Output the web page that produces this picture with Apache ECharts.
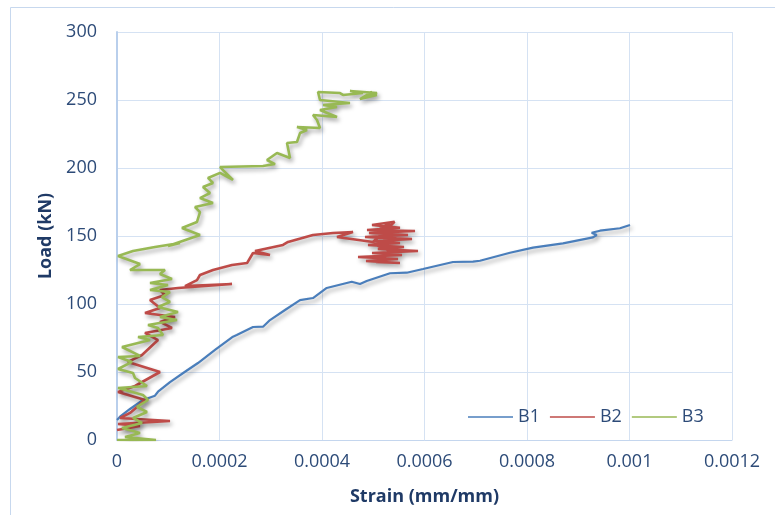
<!DOCTYPE html>
<html>
<head>
<meta charset="utf-8">
<script src="https://cdn.jsdelivr.net/npm/echarts@6/dist/echarts.min.js"></script>
<style>
  html, body { margin: 0; padding: 0; background: #fff; }
  #chart { width: 775px; height: 515px; }
</style>
</head>
<body>
<div id="chart"></div>
<script>
// strain (mm/mm) and load (kN)
const b1Strain = [0, 0.0000059, 0.0000254, 0.0000507, 0.0000741, 0.00008, 0.0001034, 0.0001327, 0.000158, 0.0001912,
  0.0002263, 0.0002336, 0.0002654, 0.0002849, 0.0002985, 0.0003278, 0.0003571, 0.0003824, 0.0004092, 0.000458,
  0.0004741, 0.0004872, 0.0005327, 0.0005653, 0.0005971, 0.0006556, 0.0006946, 0.0007083, 0.0007668, 0.0008117,
  0.0008702, 0.0009288, 0.000936, 0.0009262, 0.0009424, 0.0009814, 0.001001];
const b1Load = [14.7, 17.1, 22.8, 29.4, 32.6, 35.5, 42.6, 50.2, 56.6, 66.2,
  76.0, 77.2, 83.1, 83.3, 88.2, 95.6, 102.9, 104.4, 111.8, 116.4,
  114.7, 116.9, 122.6, 123.0, 125.7, 130.9, 131.1, 131.8, 137.7, 141.4,
  144.6, 149.0, 150.7, 152.4, 153.9, 155.7, 158.1];

const b2Strain = [0, 0.0000449, 0.000002, 0.0001034, 0.0000059, 0.0000254, 0.0000546, 0.000002, 0.0000351, 0.0000839,
  0.0000215, 0.0000488, 0.00008, 0.0000546, 0.0001073, 0.0000839, 0.0001132, 0.0000546, 0.0000839, 0.0000644,
  0.0000937, 0.0000839, 0.000119, 0.0002244, 0.0001327, 0.0001561, 0.0001619, 0.0001873, 0.0002244, 0.0002537,
  0.0002654, 0.0002985, 0.0002693, 0.0003239, 0.0003337, 0.0003824, 0.0004215, 0.0004605, 0.0004293, 0.0004995,
  0.0005416, 0.0004976, 0.0005522, 0.0004878, 0.0005815, 0.0004917, 0.0005678, 0.0004839, 0.0005756, 0.0005034,
  0.0005522, 0.0004898, 0.00056, 0.000509, 0.0005873, 0.0004976, 0.0005561, 0.0004703, 0.0005483, 0.0004859,
  0.0005522, 0.0005054, 0.0005366, 0.0005015, 0.0005444, 0.0005132, 0.0005327];
const b2Load = [7.4, 10.3, 11.8, 14.0, 16.2, 19.9, 29.4, 35.3, 39.7, 50.0,
  57.4, 62.5, 73.5, 78.7, 82.4, 86.8, 90.4, 93.4, 97.1, 102.9,
  106.6, 110.3, 111.8, 114.7, 113.2, 117.6, 121.3, 125.0, 128.7, 130.1,
  137.5, 136.0, 139.0, 143.4, 145.6, 150.7, 152.2, 152.9, 149.3, 145.6,
  160.5, 158.1, 156.1, 154.4, 153.7, 152.2, 150.7, 149.3, 147.8, 146.3,
  144.9, 143.4, 141.9, 140.4, 139.0, 137.5, 136.0, 134.6, 133.1, 131.6,
  130.1, 130.9, 138.2, 144.1, 150.0, 155.9, 158.8];

const b3Strain = [0, 0.000076, 0.0000156, 0.0000449, 0.0000098, 0.0000488, 0.0000312, 0.0000585, 0.000039, 0.0000605,
  0.0000507, 0.000002, 0.0000585, 0.0000351, 0.0000312, 0.000002, 0.0000293, 0.000002, 0.0000449, 0.0000098,
  0.0000644, 0.000041, 0.0000898, 0.00008, 0.0000605, 0.0001171, 0.0000839, 0.000119, 0.00008, 0.0001034,
  0.0000878, 0.0001034, 0.0000644, 0.0000995, 0.0000644, 0.0001073, 0.0000839, 0.0000937, 0.0000254, 0.0000449,
  0.000002, 0.0000312, 0.0000741, 0.0001229, 0.0000995, 0.0001619, 0.0001268, 0.0001561, 0.0001619, 0.0001522,
  0.0001873, 0.0001619, 0.0001815, 0.0001678, 0.0001873, 0.0001776, 0.000201, 0.0002263, 0.000201, 0.0002849,
  0.0003083, 0.0002927, 0.0003122, 0.0003376, 0.0003317, 0.0003512, 0.0003571, 0.0003707, 0.0003512, 0.0003961,
  0.0003902, 0.0003824, 0.0004293, 0.0003961, 0.0004293, 0.000402, 0.0004546, 0.0003961, 0.0003922, 0.0004351,
  0.000441, 0.00048, 0.0004546, 0.0005073, 0.0004878, 0.0005073, 0.0004741, 0.0004976];
const b3Load = [0, 0, 2.2, 5.1, 8.8, 12.5, 16.2, 20.6, 24.3, 29.4,
  33.1, 38.2, 39.7, 45.6, 49.3, 52.2, 57.4, 61.0, 61.8, 68.4,
  73.5, 75.7, 77.2, 82.4, 84.6, 88.2, 90.4, 94.1, 97.8, 101.5,
  105.1, 108.8, 110.3, 114.0, 115.4, 118.4, 122.1, 125.0, 125.0, 129.4,
  135.3, 139.0, 141.9, 144.9, 142.6, 150.7, 155.9, 160.3, 167.6, 171.3,
  174.3, 177.9, 181.6, 186.0, 189.0, 192.7, 196.4, 191.2, 200.7, 201.5,
  202.9, 205.9, 211.0, 207.4, 218.4, 219.1, 225.7, 227.9, 230.1, 229.4,
  235.3, 239.0, 237.5, 242.6, 244.9, 246.3, 247.8, 250.0, 255.9, 255.1,
  253.7, 255.1, 256.6, 255.1, 252.2, 253.7, 250.7, 255.9];

const seriesNames = ['B1', 'B2', 'B3'];
const seriesColors = ['#4A7EBB', '#BE4B48', '#98B954'];

const zip = (xs, ys) => xs.map((x, i) => [x, ys[i]]);
const seriesData = [zip(b1Strain, b1Load), zip(b2Strain, b2Load), zip(b3Strain, b3Load)];

const labelColor = '#2D4B78';
const titleColor = '#1F3A66';
const font = '"Open Sans", "Liberation Sans", sans-serif';

const chart = echarts.init(document.getElementById('chart'), null, { renderer: 'canvas' });
chart.setOption({
  animation: false,
  backgroundColor: '#fff',
  textStyle: { fontFamily: font },
  graphic: [{
    type: 'rect',
    shape: { x: 10.5, y: 7.5, width: 800, height: 520 },
    style: { fill: 'none', stroke: '#C7D8EE', lineWidth: 1 },
    silent: true,
    z: -1
  }],
  grid: { left: 117, right: 43, top: 32, bottom: 75 },
  legend: {
    left: 463,
    top: 403,
    itemWidth: 45,
    itemHeight: 14,
    itemGap: 10,
    icon: 'path://M0,7L45,7L45,8.5L0,8.5Z',
    textStyle: { color: labelColor, fontSize: 18, fontFamily: font },
    data: seriesNames
  },
  xAxis: {
    type: 'value',
    min: 0,
    max: 0.0012,
    interval: 0.0002,
    name: 'Strain (mm/mm)',
    nameLocation: 'middle',
    nameGap: 48,
    nameTextStyle: { color: titleColor, fontSize: 18, fontWeight: 'bold', fontFamily: font },
    axisLine: { lineStyle: { color: '#C4D6EE', width: 1 } },
    axisTick: { show: false },
    splitLine: { lineStyle: { color: '#D5E2F3', width: 1 } },
    axisLabel: {
      color: labelColor,
      fontSize: 18,
      margin: 13,
      formatter: v => String(parseFloat(v.toPrecision(6)))
    }
  },
  yAxis: {
    type: 'value',
    min: 0,
    max: 300,
    interval: 50,
    name: 'Load (kN)',
    nameLocation: 'middle',
    nameGap: 60,
    nameTextStyle: { color: titleColor, fontSize: 18, fontWeight: 'bold', fontFamily: font },
    axisLine: { show: true, lineStyle: { color: '#B9CFEC', width: 2 } },
    axisTick: { show: false },
    splitLine: { lineStyle: { color: '#D5E2F3', width: 1 } },
    axisLabel: { color: labelColor, fontSize: 18, margin: 20 }
  },
  series: seriesNames.map((name, i) => ({
    name: name,
    type: 'line',
    data: seriesData[i],
    symbol: 'none',
    color: seriesColors[i],
    lineStyle: {
      width: i === 0 ? 2.2 : 2.6,
      color: seriesColors[i],
      shadowColor: 'rgba(0,0,0,0.35)',
      shadowBlur: 4,
      shadowOffsetX: 2,
      shadowOffsetY: 3
    }
  }))
});
</script>
</body>
</html>
